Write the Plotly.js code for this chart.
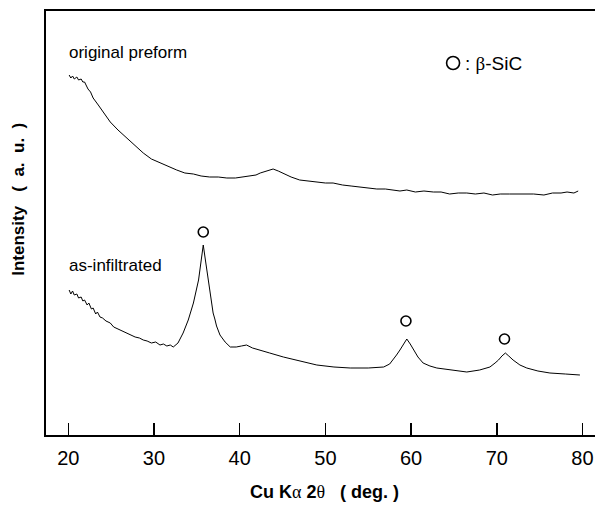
<!DOCTYPE html>
<html>
<head>
<meta charset="utf-8">
<script src="https://cdn.plot.ly/plotly-3.0.1.min.js"></script>
<style>html,body{margin:0;padding:0;background:#fff;}#chart{width:595px;height:505px;}</style>
</head>
<body>
<div id="chart"></div>
<script>
// Upper pattern: original preform (arbitrary intensity units)
const preformX = [20.1,20.3,20.5,20.7,21.0,21.2,21.5,21.7,21.9,22.3,22.6,22.9,23.5,24.2,24.9,25.8,26.8,27.8,28.75,29.7,30.7,31.7,32.65,33.6,34.6,35.5,36.5,37.5,38.5,39.5,40.4,41.2,41.9,42.4,43.2,43.9,44.5,45.2,46.0,47.0,48.0,49.0,50.0,50.9,52.0,53.0,54.0,54.8,56.0,57.0,58.0,58.7,59.5,60.5,61.5,62.6,63.5,64.5,65.5,66.5,67.5,68.5,69.5,70.4,71.5,72.5,73.5,74.3,75.5,76.5,77.5,78.2,79.0,79.5];
const preformY = [360,357,359,356,358,355,356,353,353,346,343,337,330,321,313,305,297,289,282,276,272,268,265,262,261,259,258,258,257,257,258,259,260,262,264,266,264,261,258,255,254,253,252,252,250,249,248,247,246,246,245,244,245,243,244,243,243,241,242,242,241,242,240,241,241,241,241,241,240,242,242,243,242,244];

// Lower pattern: as-infiltrated
const infilX = [20.1,20.3,20.5,20.7,21.0,21.2,21.5,21.7,21.9,22.2,22.4,22.7,22.9,23.2,23.4,23.7,24.0,24.4,24.9,25.3,25.8,26.3,26.8,27.3,27.8,28.3,28.75,29.2,29.7,30.2,30.7,31.1,31.5,31.9,32.25,32.8,33.4,34.0,34.6,35.2,35.5,35.75,36.0,36.3,36.6,36.9,37.1,37.3,37.7,38.3,38.9,39.6,40.2,40.8,41.5,42.4,43.5,45.1,47.0,49.0,51.0,52.9,55.0,56.8,57.5,57.9,58.3,58.7,59.1,59.5,59.9,60.3,60.8,61.4,62.2,63.0,64.5,66.5,68.0,69.2,69.8,70.2,70.6,71.0,71.4,71.9,72.7,73.5,74.8,76.2,78.0,79.7];
const infilY = [145,141,144,140,141,137,138,134,135,130,132,126,127,121,123,118,117,114,112,108,106,104,102,100,98,97,95,94,92,93,90,91,89,90,88,92,102,115,132,155,175,190,175,157,138,122,116,109,100,93,88,88,89,90,87,85,82,78,74,70,68,67,67,68,71,75,80,85,91,96,91,85,78,72,69,67,65,63,65,68,72,75,79,82,79,75,70,67,64,62,61,60];

// β-SiC peak markers
const peakX = [35.75, 59.4, 70.9];
const peakY = [203, 114, 96];

// Legend key position
const keyX = [64.9];
const keyY = [372];

const font = "'Liberation Sans', Arial, Helvetica, sans-serif";
const serif = "'Liberation Serif', 'Times New Roman', serif";

const traces = [
  {x: preformX, y: preformY, mode: 'lines', line: {color: '#000', width: 1}, hoverinfo: 'skip'},
  {x: infilX, y: infilY, mode: 'lines', line: {color: '#000', width: 1}, hoverinfo: 'skip'},
  {x: peakX, y: peakY, mode: 'markers', marker: {symbol: 'circle-open', size: 10, color: '#000', line: {width: 1.6, color: '#000'}}, hoverinfo: 'skip'},
  {x: keyX, y: keyY, mode: 'markers', marker: {symbol: 'circle-open', size: 13, color: '#000', line: {width: 1.6, color: '#000'}}, hoverinfo: 'skip'}
];

const layout = {
  width: 595, height: 505,
  margin: {l: 46, r: 0, t: 11, b: 70},
  paper_bgcolor: '#fff', plot_bgcolor: '#fff',
  showlegend: false,
  font: {family: font, color: '#000'},
  xaxis: {
    range: [17.40, 81.46],
    tickvals: [20, 30, 40, 50, 60, 70, 80],
    ticktext: ['20', '30', '40', '50', '60', '70', '80'],
    ticks: 'inside', ticklen: 12, tickwidth: 1.5, tickcolor: '#000',
    ticklabelstandoff: 4,
    showline: true, linewidth: 2, linecolor: '#000', mirror: true,
    showgrid: false, zeroline: false,
    tickfont: {size: 20, family: font, color: '#000'}
  },
  yaxis: {
    range: [0, 424],
    showticklabels: false, ticks: '',
    showline: true, linewidth: 2, linecolor: '#000', mirror: false,
    showgrid: false, zeroline: false
  },
  annotations: [
    {x: 19.85, y: 383, xref: 'x', yref: 'y', xanchor: 'left', yanchor: 'middle', showarrow: false,
     text: 'original preform', font: {size: 17, family: font, color: '#000'}},
    {x: 19.85, y: 170, xref: 'x', yref: 'y', xanchor: 'left', yanchor: 'middle', showarrow: false,
     text: 'as-infiltrated', font: {size: 17, family: font, color: '#000'}},
    {x: 66.1, y: 372, xref: 'x', yref: 'y', xanchor: 'left', yanchor: 'middle', showarrow: false,
     text: ': <span style="font-family:' + serif + '">β</span>-SiC', font: {size: 19, family: font, color: '#000'}},
    {x: 0.508, y: -0.134, xref: 'paper', yref: 'paper', xanchor: 'center', yanchor: 'middle', showarrow: false,
     text: '<b>Cu K</b><span style="font-family:' + serif + '">α</span><b> 2</b><span style="font-family:' + serif + '">θ</span><b>   ( deg. )</b>',
     font: {size: 18, family: font, color: '#000'}},
    {x: -0.049, y: 0.555, xref: 'paper', yref: 'paper', xanchor: 'center', yanchor: 'middle', showarrow: false, textangle: -90,
     text: '<b>Intensity&nbsp;&nbsp;&nbsp;(&nbsp;&nbsp;a.&nbsp;&nbsp;u.&nbsp;&nbsp;)</b>', font: {size: 17, family: font, color: '#000'}}
  ]
};

Plotly.newPlot('chart', traces, layout, {displayModeBar: false, staticPlot: true});
</script>
</body>
</html>
